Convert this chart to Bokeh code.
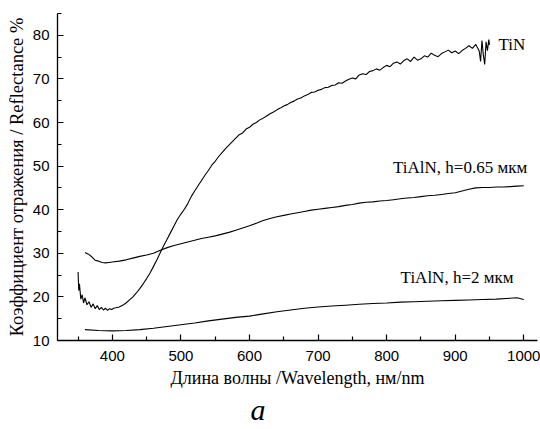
from bokeh.plotting import figure
from bokeh.models import FixedTicker, Range1d, Label, Title
from bokeh.embed import file_html
from bokeh.resources import INLINE

# ---- data ----
tin_x = [350, 351, 352, 354, 356, 358, 360, 363, 366, 369, 372, 375, 378, 381, 384, 387,
         390, 393, 396, 399, 402, 405, 410, 415, 420, 425, 430, 435, 440, 445, 450, 455,
         460, 465, 470, 475, 480, 485, 490, 495, 500, 505, 510, 515, 520, 525, 530, 535,
         540, 545, 550, 555, 560, 565, 570, 575, 580, 585, 590, 595, 600, 605, 610, 615,
         620, 625, 630, 635, 640, 645, 650, 655, 660, 665, 670, 675, 680, 685, 690, 695,
         700, 705, 710, 715, 720, 725, 730, 735, 740, 745, 750, 755, 760, 765, 770, 775,
         780, 785, 790, 795, 800, 805, 810, 815, 820, 825, 830, 835, 840, 845, 850, 855,
         860, 865, 870, 875, 880, 885, 890, 895, 900, 905, 910, 915, 920, 925, 930, 935,
         937, 939, 941, 943, 945, 947, 949, 950]
tin_y = [25.7, 21.5, 23.0, 19.5, 20.5, 18.6, 19.8, 18.2, 18.9, 17.6, 18.4, 17.3, 18.0, 17.1, 17.6, 17.0,
         17.4, 16.9, 17.3, 17.1, 17.4, 17.5, 17.7, 18.1, 18.6, 19.3, 20.0, 20.9, 21.9, 23.0, 24.2, 25.5,
         27.0, 28.5, 30.2, 31.8, 33.3, 34.8, 36.3, 37.8, 39.0, 40.1, 41.4, 43.0, 44.3, 45.5, 46.7, 47.9,
         49.0, 50.2, 51.1, 52.2, 53.1, 54.0, 54.8, 55.6, 56.4, 57.2, 57.6, 58.5, 58.9, 59.6, 60.0, 60.6,
         61.0, 61.5, 62.0, 62.4, 62.9, 63.3, 63.8, 64.1, 64.6, 64.9, 65.4, 65.6, 66.1, 66.4, 66.9, 67.0,
         67.4, 67.6, 68.0, 68.1, 68.5, 68.6, 69.1, 69.0, 69.5, 69.9, 70.2, 70.0, 70.9, 71.2, 71.0, 71.7,
         71.9, 72.3, 72.0, 72.6, 73.1, 72.8, 73.6, 73.9, 73.4, 74.2, 74.6, 74.0, 75.0, 74.3, 74.6, 75.3,
         75.0, 75.9, 75.4, 75.1, 75.8, 76.2, 76.6, 76.0, 76.4, 75.8, 76.5, 77.0, 77.6, 77.0, 77.9, 76.4,
         74.0, 78.8, 75.5, 73.3, 78.5, 76.5, 79.0, 77.8]

thin_x = [360, 365, 370, 375, 380, 385, 390, 395, 400, 410, 420, 430, 440, 450, 460, 470,
          480, 490, 500, 510, 520, 530, 540, 550, 560, 570, 580, 590, 600, 610, 620, 630,
          640, 650, 660, 670, 680, 690, 700, 710, 720, 730, 740, 750, 760, 770, 780, 790,
          800, 810, 820, 830, 840, 850, 860, 870, 880, 890, 900, 910, 920, 930, 940, 950,
          960, 970, 980, 990, 1000]
thin_y = [30.2, 29.8, 29.2, 28.4, 28.2, 27.9, 27.8, 27.9, 28.0, 28.2, 28.5, 28.9, 29.3, 29.6, 30.0, 30.7,
          31.3, 31.8, 32.2, 32.6, 33.0, 33.4, 33.7, 34.0, 34.4, 34.8, 35.3, 35.8, 36.3, 36.9, 37.5, 38.0,
          38.4, 38.7, 39.0, 39.3, 39.6, 39.9, 40.1, 40.3, 40.5, 40.7, 41.0, 41.2, 41.5, 41.7, 41.8, 42.0,
          42.1, 42.3, 42.5, 42.7, 42.8, 43.0, 43.2, 43.3, 43.5, 43.7, 43.9, 44.3, 44.7, 45.0, 45.1, 45.1,
          45.2, 45.2, 45.3, 45.4, 45.5]

thick_x = [360, 380, 400, 420, 440, 460, 480, 500, 520, 540, 560, 580, 600, 620, 640, 660,
           680, 700, 720, 740, 760, 780, 800, 820, 840, 860, 880, 900, 920, 940, 960, 980,
           990, 1000]
thick_y = [12.5, 12.3, 12.2, 12.3, 12.5, 12.8, 13.2, 13.6, 14.0, 14.5, 14.9, 15.3, 15.6, 16.1, 16.6, 17.0,
           17.4, 17.7, 17.9, 18.1, 18.3, 18.5, 18.6, 18.8, 18.9, 19.0, 19.1, 19.2, 19.3, 19.4, 19.5, 19.7,
           19.8, 19.4]

x_major = [400, 500, 600, 700, 800, 900, 1000]
x_minor = [350, 450, 550, 650, 750, 850, 950]
y_major = [10, 20, 30, 40, 50, 60, 70, 80]
y_minor = [15, 25, 35, 45, 55, 65, 75, 85]

labels = ["TiN", "TiAlN, h=0.65 мкм", "TiAlN, h=2 мкм"]
label_x = [963, 1005, 985]
label_y = [77.9, 49.6, 24.4]
label_align = ["left", "right", "right"]

p = figure(width=540, height=429, output_backend="svg", toolbar_location=None,
           x_range=Range1d(320, 1020), y_range=Range1d(10, 85),
           min_border_left=57, min_border_right=3, min_border_top=13, min_border_bottom=88)
p.outline_line_color = None
p.xgrid.visible = False
p.ygrid.visible = False
p.background_fill_color = "white"

p.line(tin_x, tin_y, color="black", line_width=1.1)
p.line(thin_x, thin_y, color="black", line_width=1.1)
p.line(thick_x, thick_y, color="black", line_width=1.1)

serif = "Liberation Serif"
sans = "Liberation Sans"

for ax, maj, mnr in ((p.xaxis[0], x_major, x_minor), (p.yaxis[0], y_major, y_minor)):
    ax.ticker = FixedTicker(ticks=maj, minor_ticks=mnr)
    ax.axis_line_color = "black"
    ax.axis_line_width = 1.3
    ax.major_tick_line_color = "black"
    ax.minor_tick_line_color = "black"
    ax.major_tick_line_width = 1.2
    ax.minor_tick_line_width = 1.2
    ax.major_tick_in = 6
    ax.major_tick_out = 0
    ax.minor_tick_in = 4
    ax.minor_tick_out = 0
    ax.major_label_text_font = sans
    ax.major_label_text_font_size = "15px"
    ax.major_label_text_color = "black"
    ax.axis_label_text_font = serif
    ax.axis_label_text_font_style = "normal"
    ax.axis_label_text_color = "black"

p.xaxis.axis_label = "Длина волны /Wavelength, нм/nm"
p.xaxis.axis_label_text_font_size = "18px"
p.xaxis.major_label_standoff = 10
p.xaxis.axis_label_standoff = 4

p.yaxis.axis_label = "Коэффициент отражения / Reflectance %"
p.yaxis.axis_label_text_font_size = "18.5px"
p.yaxis.major_label_standoff = 8
p.yaxis.axis_label_standoff = 3

for t, lx, ly, al in zip(labels, label_x, label_y, label_align):
    p.add_layout(Label(x=lx, y=ly, text=t, text_align=al, text_baseline="middle",
                       text_font=serif, text_font_size="17px", text_color="black"))

cap = Title(text="a", align="left", offset=193, text_font=serif, text_font_style="italic",
            text_font_size="30px", text_color="black", standoff=4, text_line_height=0.5,
            vertical_align="top")
p.add_layout(cap, "below")

open("out.html", "w").write(file_html(p, INLINE))
